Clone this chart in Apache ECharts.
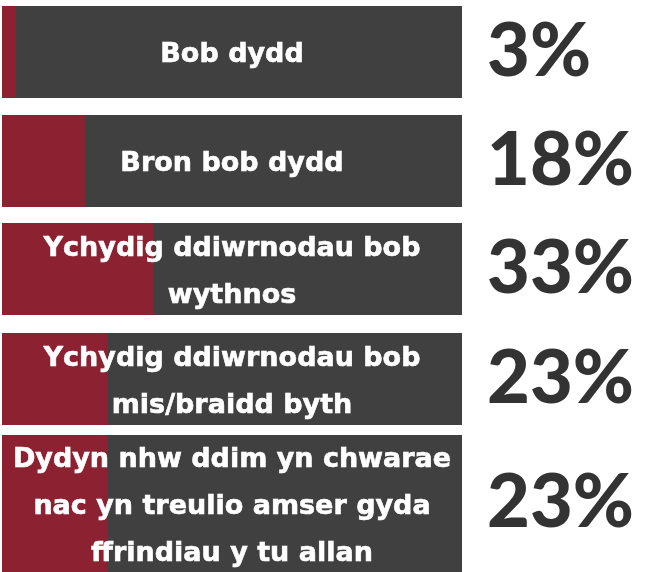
<!DOCTYPE html>
<html>
<head>
<meta charset="utf-8">
<script src="https://cdn.jsdelivr.net/npm/echarts@6/dist/echarts.min.js"></script>
<style>
  html, body { margin: 0; padding: 0; background: #ffffff; }
  #chart { width: 646px; height: 572px; }
</style>
</head>
<body>
<div id="chart"></div>
<script>
// How often children play or spend time with friends outside
const categories = [
  'Bob dydd',
  'Bron bob dydd',
  'Ychydig ddiwrnodau bob\nwythnos',
  'Ychydig ddiwrnodau bob\nmis/braidd byth',
  'Dydyn nhw ddim yn chwarae\nnac yn treulio amser gyda\nffrindiau y tu allan'
];
const values = [3, 18, 33, 23, 23];

// Row layout in pixels: each answer gets its own band
const rowTop = [6, 115, 223, 333, 435];
const rowHeight = [92, 92, 92, 92, 148];

const RED = '#8b2131';
const GREY = '#404040';
const INK = '#333333';

const grid = [], xAxis = [], yAxis = [], series = [];

categories.forEach((name, i) => {
  grid.push({ left: 2, width: 460, top: rowTop[i], height: rowHeight[i], containLabel: false });
  xAxis.push({ type: 'value', gridIndex: i, min: 0, max: 100, show: false });
  yAxis.push({ type: 'category', gridIndex: i, data: [name], show: false });

  // share of answers, over a full-width grey track
  series.push({
    type: 'bar', xAxisIndex: i, yAxisIndex: i,
    data: [values[i]],
    barWidth: '100%', barGap: '-100%',
    showBackground: true,
    backgroundStyle: { color: GREY },
    itemStyle: { color: RED },
    silent: true, z: 2
  });
  // answer text centred across the whole track
  series.push({
    type: 'bar', xAxisIndex: i, yAxisIndex: i,
    data: [100],
    barWidth: '100%', barGap: '-100%',
    itemStyle: { color: 'rgba(0,0,0,0)' },
    label: {
      show: true, position: 'inside',
      formatter: '{b}',
      color: '#ffffff',
      fontFamily: 'DejaVu Sans', fontWeight: 'bold', fontSize: 27,
      lineHeight: 47, align: 'center',
      offset: [0, 3],
      textBorderColor: '#ffffff', textBorderWidth: 0.6
    },
    silent: true, z: 3
  });
  // percentage to the right of the track
  series.push({
    type: 'bar', xAxisIndex: i, yAxisIndex: i,
    data: [100],
    barWidth: '100%', barGap: '-100%',
    itemStyle: { color: 'rgba(0,0,0,0)' },
    label: {
      show: true, position: 'right', distance: 25,
      formatter: () => values[i] + '%',
      color: INK,
      fontFamily: 'Lato', fontWeight: 900, fontSize: 74
    },
    silent: true, z: 3
  });
});

const chart = echarts.init(document.getElementById('chart'), null, { renderer: 'canvas' });
chart.setOption({
  animation: false,
  backgroundColor: '#ffffff',
  grid, xAxis, yAxis, series
});
</script>
</body>
</html>
